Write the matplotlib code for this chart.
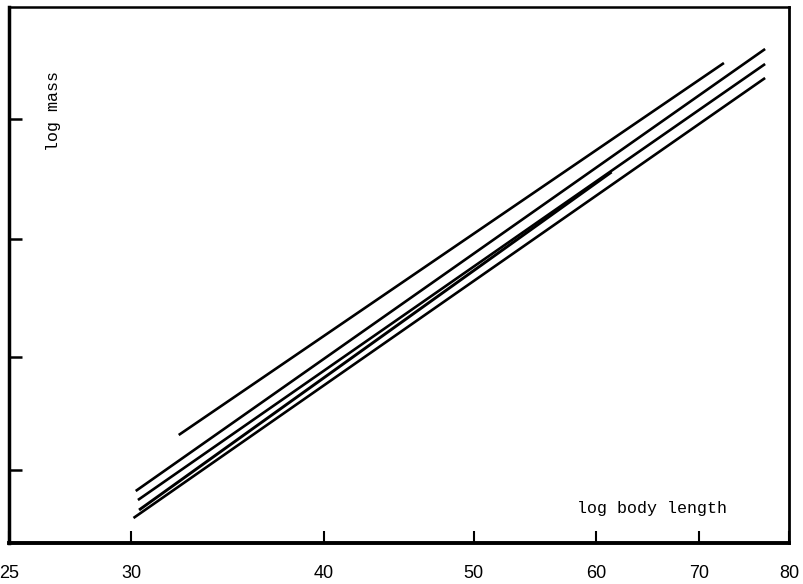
import matplotlib
matplotlib.use("Agg")
import matplotlib.pyplot as plt
from matplotlib.ticker import NullLocator, FixedLocator, FixedFormatter

# x: body length (log scale), y: log mass (arbitrary units)
xticks = [25, 30, 40, 50, 60, 70, 80]
xticklabels = ["25", "30", "40", "50", "60", "70", "80"]
yticks = [0.73, 1.86, 3.04, 4.24]

line_a_x = [32.2, 72.6]
line_a_y = [1.08, 4.80]
line_b_x = [30.2, 77.2]
line_b_y = [0.52, 4.94]
line_c_x = [30.3, 77.2]
line_c_y = [0.43, 4.79]
line_d_x = [30.35, 61.4]
line_d_y = [0.33, 3.71]
line_e_x = [30.1, 77.2]
line_e_y = [0.25, 4.65]

fig = plt.figure(figsize=(8.04, 5.84), dpi=100)
ax = fig.add_axes([9/804, (584-543)/584, (789-9)/804, (543-7)/584])

for xs, ys, lw in [(line_a_x, line_a_y, 1.9), (line_b_x, line_b_y, 1.9),
                   (line_c_x, line_c_y, 1.9), (line_d_x, line_d_y, 2.1),
                   (line_e_x, line_e_y, 1.9)]:
    ax.plot(xs, ys, color="black", lw=lw, solid_capstyle="butt")

ax.set_xscale("log")
ax.set_xlim(25, 80)
ax.set_ylim(0, 5.36)
ax.xaxis.set_minor_locator(NullLocator())
ax.xaxis.set_major_locator(FixedLocator(xticks))
ax.xaxis.set_major_formatter(FixedFormatter(xticklabels))
ax.set_yticks(yticks)
ax.set_yticklabels([])
ax.tick_params(axis="x", direction="in", length=9, width=1.5, pad=16,
               labelsize=13, labelfontfamily="Liberation Sans")
ax.tick_params(axis="y", direction="in", length=9, width=1.8)

ax.spines["left"].set_linewidth(2.5)
ax.spines["bottom"].set_linewidth(2.8)
ax.spines["top"].set_linewidth(1.8)
ax.spines["right"].set_linewidth(2.0)

ax.text(45/780, (543-111)/536, "log mass", transform=ax.transAxes, rotation=90,
        ha="center", va="center", fontsize=12, family="Liberation Mono")
ax.text((577-9)/780, (543-508)/536, "log body length", transform=ax.transAxes,
        ha="left", va="center", fontsize=12, family="Liberation Mono")

fig.savefig("out.png", dpi=100)
